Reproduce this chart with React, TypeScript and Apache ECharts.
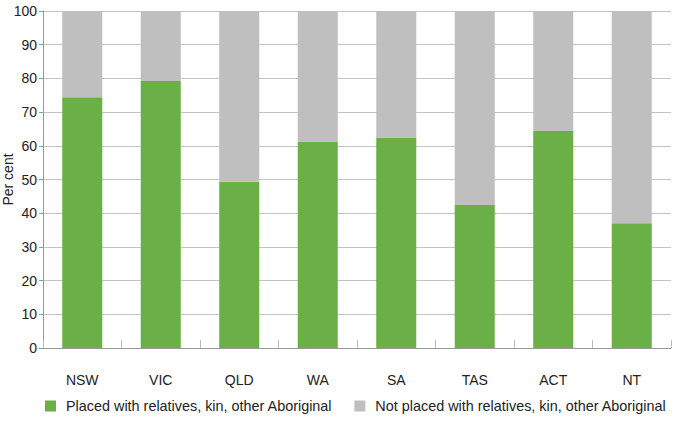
import React, { useEffect, useRef } from "react";
import * as echarts from "echarts";

const categories = ["NSW", "VIC", "QLD", "WA", "SA", "TAS", "ACT", "NT"];
const placedValues = [74.4, 79.2, 49.3, 61.3, 62.5, 42.4, 64.4, 37.0];
const notPlacedValues = placedValues.map((v) => +(100 - v).toFixed(1));
const seriesNames = [
  "Placed with relatives, kin, other Aboriginal",
  "Not placed with relatives, kin, other Aboriginal",
];

export default function App() {
  const ref = useRef<HTMLDivElement>(null);
  useEffect(() => {
    document.body.style.margin = "0";
    if (!ref.current) return;
    const chart = echarts.init(ref.current, undefined, { renderer: "svg" });
    const font = "'Liberation Sans', Arial, sans-serif";
    chart.setOption({
      animation: false,
      textStyle: { fontFamily: font },
      grid: {
        left: 43,
        right: 4,
        top: 11,
        bottom: 73,
        containLabel: false,
        outerBoundsMode: "none",
      },
      legend: {
        top: 399,
        left: 45,
        width: 630,
        padding: 0,
        itemWidth: 11,
        itemHeight: 11,
        itemGap: 22,
        icon: "rect",
        textStyle: { fontSize: 14.4, color: "#222", fontFamily: font, padding: [0, 0, 0, 5] },
        data: seriesNames,
      },
      xAxis: {
        type: "category",
        data: categories,
        axisLine: { lineStyle: { color: "#999", width: 1 } },
        axisTick: { show: true, inside: true, length: 8, lineStyle: { color: "#bbb" } },
        axisLabel: { fontSize: 14, color: "#222", margin: 25, fontFamily: font },
      },
      yAxis: {
        type: "value",
        min: 0,
        max: 100,
        interval: 10,
        name: "Per cent",
        nameLocation: "middle",
        nameGap: 28,
        nameMoveOverlap: false,
        nameRotate: 90,
        nameTextStyle: { fontSize: 14, color: "#222", fontFamily: font },
        axisLine: { show: true, lineStyle: { color: "#999" } },
        axisTick: { show: true, length: 4, lineStyle: { color: "#999" } },
        axisLabel: { fontSize: 14, color: "#222", margin: 6, fontFamily: font },
        splitLine: { lineStyle: { color: "#c4c4c4", width: 1 } },
      },
      series: [
        {
          name: seriesNames[0],
          type: "bar",
          stack: "total",
          data: placedValues,
          barWidth: "51%",
          itemStyle: { color: "#6ab047" },
        },
        {
          name: seriesNames[1],
          type: "bar",
          stack: "total",
          data: notPlacedValues,
          barWidth: "51%",
          itemStyle: { color: "#bfbfbf" },
        },
      ],
    });
    return () => chart.dispose();
  }, []);
  return <div ref={ref} style={{ width: 675, height: 421 }} />;
}
